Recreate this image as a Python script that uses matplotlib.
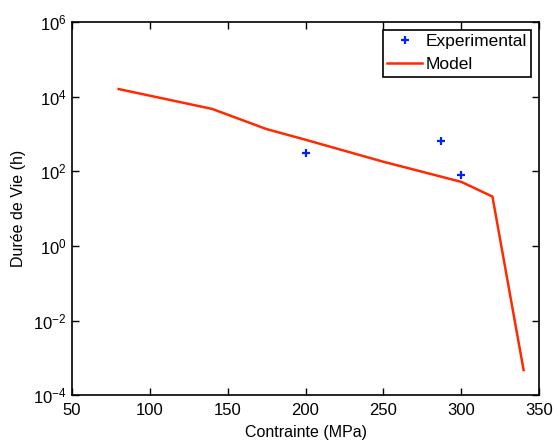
import numpy as np
import matplotlib
matplotlib.use("Agg")
import matplotlib.pyplot as plt

plt.rcParams['font.family'] = ['Liberation Sans', 'DejaVu Sans']
plt.rcParams['mathtext.fontset'] = 'custom'
plt.rcParams['mathtext.rm'] = 'Liberation Sans'
plt.rcParams['mathtext.it'] = 'Liberation Sans'
plt.rcParams['mathtext.default'] = 'regular'
plt.rcParams['axes.unicode_minus'] = False

# model curve (stress in MPa, life in hours)
model_stress = [80, 140, 175, 200, 250, 300, 320, 340]
model_life = [1.6e4, 4.7e3, 1.35e3, 7.0e2, 1.8e2, 5.2e1, 2.1e1, 4.7e-4]

# experimental points
exp_stress = [200, 287, 300]
exp_life = [3.0e2, 6.3e2, 8.0e1]

fig = plt.figure(figsize=(5.53, 4.41), dpi=100)
ax = fig.add_axes([0.130, 0.104, 0.845, 0.846])

ax.semilogy(exp_stress, exp_life, '+', color='#0022ff', ms=6, mew=1.6,
            label='Experimental')
ax.semilogy(model_stress, model_life, '-', color='#ff2a00', lw=1.8,
            label='Model')

ax.set_xlim(50, 350)
ax.set_ylim(1e-4, 1e6)
ax.set_xticks(np.arange(50, 351, 50))
ax.set_yticks([1e-4, 1e-2, 1e0, 1e2, 1e4, 1e6])
ax.set_yticklabels([r'$10^{-4}$', r'$10^{-2}$', r'$10^{0}$',
                    r'$10^{2}$', r'$10^{4}$', r'$10^{6}$'])
ax.yaxis.set_minor_locator(matplotlib.ticker.NullLocator())
ax.tick_params(direction='in', top=True, right=True, length=5, width=1,
               labelsize=12)
ax.tick_params(axis='x', pad=6)
ax.tick_params(axis='y', pad=4)
for s in ax.spines.values():
    s.set_linewidth(1.2)

ax.set_xlabel('Contrainte (MPa)', fontsize=11.5, labelpad=5)
ax.set_ylabel('Durée de Vie (h)', fontsize=11.5, labelpad=5)

leg = ax.legend(loc='upper right', fontsize=12.5, handlelength=2.0,
                fancybox=False, edgecolor='black', framealpha=1,
                borderaxespad=0.45, handletextpad=0.2, borderpad=0.25,
                labelspacing=0.45)
leg.get_frame().set_linewidth(1.2)

fig.savefig('out.png', dpi=100)
